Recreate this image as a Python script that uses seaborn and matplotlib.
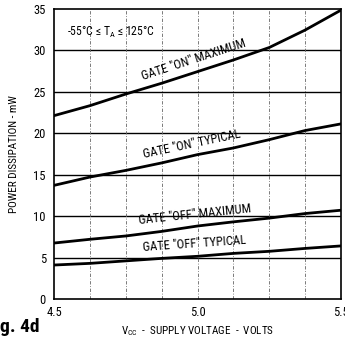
import numpy as np
import pandas as pd
import seaborn as sns
import matplotlib
matplotlib.use("Agg")
import matplotlib.pyplot as plt
from matplotlib import font_manager

# supply voltage sample points (V)
vcc = [4.5, 4.625, 4.75, 4.875, 5.0, 5.125, 5.25, 5.375, 5.5]

# power dissipation (mW)
on_max = [22.1, 23.3, 24.7, 26.0, 27.4, 28.8, 30.3, 32.4, 34.8]
on_typ = [13.7, 14.7, 15.5, 16.4, 17.4, 18.2, 19.2, 20.3, 21.1]
off_max = [6.75, 7.2, 7.6, 8.15, 8.8, 9.3, 9.75, 10.3, 10.7]
off_typ = [4.1, 4.3, 4.6, 4.9, 5.15, 5.5, 5.75, 6.1, 6.4]

curve_names = ['GATE "ON" MAXIMUM', 'GATE "ON" TYPICAL',
               'GATE "OFF" MAXIMUM', 'GATE "OFF" TYPICAL']
y_ticks = [0, 5, 10, 15, 20, 25, 30, 35]
x_ticks = [4.5, 5.0, 5.5]

sns.set_theme(style="white")

# look for a condensed face, the scan uses a narrow sans
fonts = font_manager.fontManager.ttflist
names = {f.name for f in fonts}
stretch = "normal"
family = "DejaVu Sans"
for cand in ["Liberation Sans Narrow", "Roboto Condensed", "Open Sans Condensed"]:
    if cand in names:
        family = cand
        break
else:
    if any(f.name == "DejaVu Sans" and f.stretch != "normal" for f in fonts):
        stretch = "condensed"
plt.rcParams["font.family"] = [family, "DejaVu Sans"]
plt.rcParams["font.stretch"] = stretch
for k in ["text.color", "axes.labelcolor", "xtick.color", "ytick.color"]:
    plt.rcParams[k] = "black"

df = pd.concat([
    pd.DataFrame({"vcc": vcc, "mw": vals, "curve": name})
    for name, vals in zip(curve_names, [on_max, on_typ, off_max, off_typ])
], ignore_index=True)

fig = plt.figure(figsize=(3.45, 3.41), dpi=100)
ax = fig.add_axes([0.157, 0.123, 0.831, 0.852])

# grid: solid horizontals, dashed verticals
for y in y_ticks[1:-1]:
    ax.axhline(y, color="black", lw=1.0, zorder=1)
for x in np.arange(4.625, 5.5, 0.125):
    ax.axvline(x, color="#666666", lw=0.6, ls=(0, (4, 2, 1, 2)), zorder=1)

sns.lineplot(data=df, x="vcc", y="mw", hue="curve", hue_order=curve_names,
             palette=["black"] * 4, linewidth=2.0, legend=False, ax=ax, zorder=3)

ax.set_xlim(4.5, 5.5)
ax.set_ylim(0, 35)
ax.set_xticks(x_ticks)
ax.set_xticklabels(["4.5", "5.0", "5.5"])
ax.set_yticks(y_ticks)
ax.tick_params(axis="y", labelsize=9, length=0, pad=6)
ax.tick_params(axis="x", labelsize=9, length=0, pad=5)
for s in ax.spines.values():
    s.set_color("black")
    s.set_linewidth(1.2)

ax.set_xlabel(r"V$_{\mathregular{CC}}$  -  SUPPLY VOLTAGE  -  VOLTS", fontsize=8, labelpad=4)
ax.set_ylabel("POWER DISSIPATION - mW", fontsize=8, labelpad=10)

ax.text(4.545, 32.1, r"-55°C ≤ T$_{\mathregular{A}}$ ≤ 125°C", fontsize=8.5,
        ha="left", va="center")

# curve labels (text position in data coords, rotated along the line)
lab = [(4.985, 28.8, 18), (4.98, 18.7, 12), (4.99, 10.15, 6), (4.99, 6.65, 4)]
for name, (lx, ly, rot) in zip(curve_names, lab):
    ax.text(lx, ly, name, fontsize=9, ha="center", va="center",
            rotation=rot, rotation_mode="anchor")

fig.text(0.0, 0.042, "g. 4d", fontsize=14, fontweight="bold", ha="left", va="center")

fig.savefig("out.png", dpi=100)
